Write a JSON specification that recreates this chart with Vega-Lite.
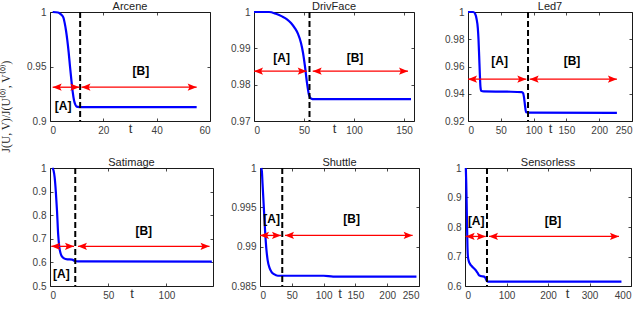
{
  "$schema": "https://vega.github.io/schema/vega-lite/v6.json",
  "padding": 0,
  "background": "white",
  "title": {"text": "J(U, V)/J(U⁽⁰⁾, V⁽⁰⁾)", "orient": "left", "anchor": "middle", "font": "Liberation Serif", "fontSize": 11.5, "fontWeight": "normal", "color": "#222222", "offset": 4, "dx": 44},
  "datasets": {
    "curves": [
      {"p":"Arcene","t":1,"j":1},{"p":"Arcene","t":3,"j":0.9995},{"p":"Arcene","t":4,"j":0.998},{"p":"Arcene","t":5,"j":0.995},{"p":"Arcene","t":5.5,"j":0.99},{"p":"Arcene","t":6,"j":0.983},{"p":"Arcene","t":6.5,"j":0.974},{"p":"Arcene","t":7,"j":0.963},{"p":"Arcene","t":7.5,"j":0.95},{"p":"Arcene","t":8,"j":0.938},{"p":"Arcene","t":8.5,"j":0.927},{"p":"Arcene","t":9,"j":0.919},{"p":"Arcene","t":9.5,"j":0.915},{"p":"Arcene","t":10,"j":0.9132},{"p":"Arcene","t":11,"j":0.9128},{"p":"Arcene","t":55,"j":0.9128},
      {"p":"DrivFace","t":0,"j":1},{"p":"DrivFace","t":15,"j":1},{"p":"DrivFace","t":22,"j":0.9995},{"p":"DrivFace","t":28,"j":0.9988},{"p":"DrivFace","t":33,"j":0.998},{"p":"DrivFace","t":37,"j":0.997},{"p":"DrivFace","t":41,"j":0.9955},{"p":"DrivFace","t":44,"j":0.994},{"p":"DrivFace","t":47,"j":0.9915},{"p":"DrivFace","t":49,"j":0.9888},{"p":"DrivFace","t":51,"j":0.985},{"p":"DrivFace","t":53,"j":0.9805},{"p":"DrivFace","t":55,"j":0.9772},{"p":"DrivFace","t":57,"j":0.9762},{"p":"DrivFace","t":60,"j":0.976},{"p":"DrivFace","t":157,"j":0.976},
      {"p":"Led7","t":0,"j":1},{"p":"Led7","t":8,"j":1},{"p":"Led7","t":11,"j":0.9985},{"p":"Led7","t":13,"j":0.995},{"p":"Led7","t":15,"j":0.988},{"p":"Led7","t":16,"j":0.98},{"p":"Led7","t":17,"j":0.968},{"p":"Led7","t":18,"j":0.955},{"p":"Led7","t":19,"j":0.945},{"p":"Led7","t":20,"j":0.9422},{"p":"Led7","t":24,"j":0.9417},{"p":"Led7","t":60,"j":0.9415},{"p":"Led7","t":82,"j":0.9412},{"p":"Led7","t":84,"j":0.9405},{"p":"Led7","t":85.5,"j":0.937},{"p":"Led7","t":87,"j":0.931},{"p":"Led7","t":88.5,"j":0.9265},{"p":"Led7","t":92,"j":0.9262},{"p":"Led7","t":227,"j":0.926},
      {"p":"Satimage","t":2,"j":1},{"p":"Satimage","t":3,"j":0.99},{"p":"Satimage","t":4,"j":0.96},{"p":"Satimage","t":5,"j":0.9},{"p":"Satimage","t":6,"j":0.82},{"p":"Satimage","t":7,"j":0.72},{"p":"Satimage","t":8,"j":0.665},{"p":"Satimage","t":9,"j":0.64},{"p":"Satimage","t":10,"j":0.627},{"p":"Satimage","t":12,"j":0.617},{"p":"Satimage","t":15,"j":0.613},{"p":"Satimage","t":19,"j":0.612},{"p":"Satimage","t":21,"j":0.607},{"p":"Satimage","t":24,"j":0.604},{"p":"Satimage","t":139,"j":0.603},
      {"p":"Shuttle","t":2,"j":1},{"p":"Shuttle","t":3,"j":0.9995},{"p":"Shuttle","t":4,"j":0.998},{"p":"Shuttle","t":6,"j":0.995},{"p":"Shuttle","t":8,"j":0.992},{"p":"Shuttle","t":10,"j":0.9897},{"p":"Shuttle","t":12,"j":0.9883},{"p":"Shuttle","t":15,"j":0.9873},{"p":"Shuttle","t":18,"j":0.9868},{"p":"Shuttle","t":22,"j":0.9865},{"p":"Shuttle","t":28,"j":0.9863},{"p":"Shuttle","t":100,"j":0.9863},{"p":"Shuttle","t":115,"j":0.9862},{"p":"Shuttle","t":246,"j":0.9862},
      {"p":"Sensorless","t":2,"j":1},{"p":"Sensorless","t":3,"j":0.95},{"p":"Sensorless","t":4,"j":0.88},{"p":"Sensorless","t":5,"j":0.8},{"p":"Sensorless","t":6,"j":0.73},{"p":"Sensorless","t":7,"j":0.7},{"p":"Sensorless","t":9,"j":0.685},{"p":"Sensorless","t":12,"j":0.675},{"p":"Sensorless","t":16,"j":0.668},{"p":"Sensorless","t":20,"j":0.662},{"p":"Sensorless","t":25,"j":0.655},{"p":"Sensorless","t":30,"j":0.645},{"p":"Sensorless","t":34,"j":0.636},{"p":"Sensorless","t":40,"j":0.633},{"p":"Sensorless","t":46,"j":0.632},{"p":"Sensorless","t":49,"j":0.628},{"p":"Sensorless","t":52,"j":0.618},{"p":"Sensorless","t":55,"j":0.615},{"p":"Sensorless","t":377,"j":0.615}
    ],
    "splits": [
      {"p":"Arcene","t":11.3},{"p":"DrivFace","t":55.5},{"p":"Led7","t":91.5},{"p":"Satimage","t":21.7},{"p":"Shuttle","t":35},{"p":"Sensorless","t":53}
    ],
    "arrows": [
      {"p":"Arcene","t1":1,"t2":11,"y":0.931},{"p":"Arcene","t1":11.8,"t2":55,"y":0.931},
      {"p":"DrivFace","t1":0,"t2":52.7,"y":0.9837},{"p":"DrivFace","t1":58.7,"t2":154,"y":0.9837},
      {"p":"Led7","t1":0,"t2":88.9,"y":0.9507},{"p":"Led7","t1":94,"t2":227,"y":0.9507},
      {"p":"Satimage","t1":1.1,"t2":20.6,"y":0.668},{"p":"Satimage","t1":24,"t2":137,"y":0.668},
      {"p":"Shuttle","t1":0,"t2":33,"y":0.99143},{"p":"Shuttle","t1":39.3,"t2":240,"y":0.99143},
      {"p":"Sensorless","t1":1.6,"t2":50,"y":0.768},{"p":"Sensorless","t1":57.8,"t2":371,"y":0.768}
    ],
    "labels": [
      {"p":"Arcene","t":4.9,"y":0.9138,"txt":"[A]"},{"p":"Arcene","t":34.1,"y":0.946,"txt":"[B]"},
      {"p":"DrivFace","t":27.7,"y":0.9873,"txt":"[A]"},{"p":"DrivFace","t":101,"y":0.9873,"txt":"[B]"},
      {"p":"Led7","t":48.3,"y":0.9638,"txt":"[A]"},{"p":"Led7","t":158.5,"y":0.9638,"txt":"[B]"},
      {"p":"Satimage","t":9.7,"y":0.55,"txt":"[A]"},{"p":"Satimage","t":80.5,"y":0.732,"txt":"[B]"},
      {"p":"Shuttle","t":18.4,"y":0.9935,"txt":"[A]"},{"p":"Shuttle","t":144,"y":0.9935,"txt":"[B]"},
      {"p":"Sensorless","t":27,"y":0.821,"txt":"[A]"},{"p":"Sensorless","t":212,"y":0.821,"txt":"[B]"}
    ]
  },
  "columns": 3,
  "align": {"row": "all", "column": "none"},
  "bounds": "full",
  "spacing": {"row": 11, "column": 5},
  "concat": [
    {
      "width": 160, "height": 109, "title": "Arcene",
      "resolve": {"axis": {"x": "independent", "y": "independent"}},
      "layer": [
        {"data": {"name": "curves"}, "transform": [{"filter": {"field": "p", "equal": "Arcene"}}],
         "mark": {"type": "line", "color": "#0000ff", "strokeWidth": 2.2, "interpolate": "monotone"},
         "encoding": {
           "x": {"field": "t", "type": "quantitative", "title": "t", "scale": {"domain": [0, 60], "nice": false, "zero": false}, "axis": {"values": [0, 20, 40, 60], "tickCount": 20, "format": "d", "labelOverlap": false}},
           "y": {"field": "j", "type": "quantitative", "title": null, "scale": {"domain": [0.9, 1], "nice": false, "zero": false}, "axis": {"values": [0.9, 0.95, 1], "tickCount": 20, "format": "~g", "labelOverlap": false, "minExtent": 33}}}},
        {"data": {"name": "splits"}, "transform": [{"filter": {"field": "p", "equal": "Arcene"}}],
         "mark": {"type": "rule", "color": "#000000", "strokeWidth": 2, "strokeDash": [6, 3]},
         "encoding": {"x": {"field": "t", "type": "quantitative", "title": null, "axis": {"orient": "top", "labels": false, "values": [0, 20, 40, 60], "tickCount": 20, "minExtent": 0, "maxExtent": 0}}}},
        {"data": {"name": "arrows"}, "transform": [{"filter": {"field": "p", "equal": "Arcene"}}],
         "mark": {"type": "rule", "color": "#ff0000", "strokeWidth": 1.3},
         "encoding": {"x": {"field": "t1", "type": "quantitative", "axis": null}, "x2": {"field": "t2"}, "y": {"field": "y", "type": "quantitative", "title": null, "axis": {"orient": "right", "labels": false, "values": [0.9, 0.95, 1], "tickCount": 20, "minExtent": 0, "maxExtent": 0}}}},
        {"data": {"name": "arrows"}, "transform": [{"filter": {"field": "p", "equal": "Arcene"}}],
         "mark": {"type": "point", "shape": "M0,0L3,-1.2L2.4,0L3,1.2Z", "size": 36, "filled": true, "color": "#ff0000", "opacity": 1, "strokeWidth": 0},
         "encoding": {"x": {"field": "t1", "type": "quantitative", "axis": null}, "y": {"field": "y", "type": "quantitative", "axis": null}}},
        {"data": {"name": "arrows"}, "transform": [{"filter": {"field": "p", "equal": "Arcene"}}],
         "mark": {"type": "point", "shape": "M0,0L-3,-1.2L-2.4,0L-3,1.2Z", "size": 36, "filled": true, "color": "#ff0000", "opacity": 1, "strokeWidth": 0},
         "encoding": {"x": {"field": "t2", "type": "quantitative", "axis": null}, "y": {"field": "y", "type": "quantitative", "axis": null}}},
        {"data": {"name": "labels"}, "transform": [{"filter": {"field": "p", "equal": "Arcene"}}],
         "mark": {"type": "text", "font": "Liberation Sans", "fontSize": 12, "fontWeight": "bold", "color": "#000000"},
         "encoding": {"x": {"field": "t", "type": "quantitative", "axis": null}, "y": {"field": "y", "type": "quantitative", "axis": null}, "text": {"field": "txt"}}}
      ]
    },
    {
      "width": 160, "height": 109, "title": "DrivFace",
      "resolve": {"axis": {"x": "independent", "y": "independent"}},
      "layer": [
        {"data": {"name": "curves"}, "transform": [{"filter": {"field": "p", "equal": "DrivFace"}}],
         "mark": {"type": "line", "color": "#0000ff", "strokeWidth": 2.2, "interpolate": "monotone"},
         "encoding": {
           "x": {"field": "t", "type": "quantitative", "title": "t", "scale": {"domain": [0, 160], "nice": false, "zero": false}, "axis": {"values": [0, 50, 100, 150], "tickCount": 20, "format": "d", "labelOverlap": false}},
           "y": {"field": "j", "type": "quantitative", "title": null, "scale": {"domain": [0.97, 1], "nice": false, "zero": false}, "axis": {"values": [0.97, 0.98, 0.99, 1], "tickCount": 20, "format": "~g", "labelOverlap": false, "minExtent": 31}}}},
        {"data": {"name": "splits"}, "transform": [{"filter": {"field": "p", "equal": "DrivFace"}}],
         "mark": {"type": "rule", "color": "#000000", "strokeWidth": 2, "strokeDash": [6, 3]},
         "encoding": {"x": {"field": "t", "type": "quantitative", "title": null, "axis": {"orient": "top", "labels": false, "values": [0, 50, 100, 150], "tickCount": 20, "minExtent": 0, "maxExtent": 0}}}},
        {"data": {"name": "arrows"}, "transform": [{"filter": {"field": "p", "equal": "DrivFace"}}],
         "mark": {"type": "rule", "color": "#ff0000", "strokeWidth": 1.3},
         "encoding": {"x": {"field": "t1", "type": "quantitative", "axis": null}, "x2": {"field": "t2"}, "y": {"field": "y", "type": "quantitative", "title": null, "axis": {"orient": "right", "labels": false, "values": [0.97, 0.98, 0.99, 1], "tickCount": 20, "minExtent": 0, "maxExtent": 0}}}},
        {"data": {"name": "arrows"}, "transform": [{"filter": {"field": "p", "equal": "DrivFace"}}],
         "mark": {"type": "point", "shape": "M0,0L3,-1.2L2.4,0L3,1.2Z", "size": 36, "filled": true, "color": "#ff0000", "opacity": 1, "strokeWidth": 0},
         "encoding": {"x": {"field": "t1", "type": "quantitative", "axis": null}, "y": {"field": "y", "type": "quantitative", "axis": null}}},
        {"data": {"name": "arrows"}, "transform": [{"filter": {"field": "p", "equal": "DrivFace"}}],
         "mark": {"type": "point", "shape": "M0,0L-3,-1.2L-2.4,0L-3,1.2Z", "size": 36, "filled": true, "color": "#ff0000", "opacity": 1, "strokeWidth": 0},
         "encoding": {"x": {"field": "t2", "type": "quantitative", "axis": null}, "y": {"field": "y", "type": "quantitative", "axis": null}}},
        {"data": {"name": "labels"}, "transform": [{"filter": {"field": "p", "equal": "DrivFace"}}],
         "mark": {"type": "text", "font": "Liberation Sans", "fontSize": 12, "fontWeight": "bold", "color": "#000000"},
         "encoding": {"x": {"field": "t", "type": "quantitative", "axis": null}, "y": {"field": "y", "type": "quantitative", "axis": null}, "text": {"field": "txt"}}}
      ]
    },
    {
      "width": 164, "height": 109, "title": "Led7",
      "resolve": {"axis": {"x": "independent", "y": "independent"}},
      "layer": [
        {"data": {"name": "curves"}, "transform": [{"filter": {"field": "p", "equal": "Led7"}}],
         "mark": {"type": "line", "color": "#0000ff", "strokeWidth": 2.2, "interpolate": "monotone"},
         "encoding": {
           "x": {"field": "t", "type": "quantitative", "title": "t", "scale": {"domain": [0, 250], "nice": false, "zero": false}, "axis": {"values": [0, 50, 100, 150, 200, 250], "tickCount": 20, "format": "d", "labelOverlap": false}},
           "y": {"field": "j", "type": "quantitative", "title": null, "scale": {"domain": [0.92, 1], "nice": false, "zero": false}, "axis": {"values": [0.92, 0.94, 0.96, 0.98, 1], "tickCount": 20, "format": "~g", "labelOverlap": false, "minExtent": 46}}}},
        {"data": {"name": "splits"}, "transform": [{"filter": {"field": "p", "equal": "Led7"}}],
         "mark": {"type": "rule", "color": "#000000", "strokeWidth": 2, "strokeDash": [6, 3]},
         "encoding": {"x": {"field": "t", "type": "quantitative", "title": null, "axis": {"orient": "top", "labels": false, "values": [0, 50, 100, 150, 200, 250], "tickCount": 20, "minExtent": 0, "maxExtent": 0}}}},
        {"data": {"name": "arrows"}, "transform": [{"filter": {"field": "p", "equal": "Led7"}}],
         "mark": {"type": "rule", "color": "#ff0000", "strokeWidth": 1.3},
         "encoding": {"x": {"field": "t1", "type": "quantitative", "axis": null}, "x2": {"field": "t2"}, "y": {"field": "y", "type": "quantitative", "title": null, "axis": {"orient": "right", "labels": false, "values": [0.92, 0.94, 0.96, 0.98, 1], "tickCount": 20, "minExtent": 0, "maxExtent": 0}}}},
        {"data": {"name": "arrows"}, "transform": [{"filter": {"field": "p", "equal": "Led7"}}],
         "mark": {"type": "point", "shape": "M0,0L3,-1.2L2.4,0L3,1.2Z", "size": 36, "filled": true, "color": "#ff0000", "opacity": 1, "strokeWidth": 0},
         "encoding": {"x": {"field": "t1", "type": "quantitative", "axis": null}, "y": {"field": "y", "type": "quantitative", "axis": null}}},
        {"data": {"name": "arrows"}, "transform": [{"filter": {"field": "p", "equal": "Led7"}}],
         "mark": {"type": "point", "shape": "M0,0L-3,-1.2L-2.4,0L-3,1.2Z", "size": 36, "filled": true, "color": "#ff0000", "opacity": 1, "strokeWidth": 0},
         "encoding": {"x": {"field": "t2", "type": "quantitative", "axis": null}, "y": {"field": "y", "type": "quantitative", "axis": null}}},
        {"data": {"name": "labels"}, "transform": [{"filter": {"field": "p", "equal": "Led7"}}],
         "mark": {"type": "text", "font": "Liberation Sans", "fontSize": 12, "fontWeight": "bold", "color": "#000000"},
         "encoding": {"x": {"field": "t", "type": "quantitative", "axis": null}, "y": {"field": "y", "type": "quantitative", "axis": null}, "text": {"field": "txt"}}}
      ]
    },
    {
      "width": 163, "height": 118, "title": "Satimage",
      "resolve": {"axis": {"x": "independent", "y": "independent"}},
      "layer": [
        {"data": {"name": "curves"}, "transform": [{"filter": {"field": "p", "equal": "Satimage"}}],
         "mark": {"type": "line", "color": "#0000ff", "strokeWidth": 2.2, "interpolate": "monotone"},
         "encoding": {
           "x": {"field": "t", "type": "quantitative", "title": "t", "scale": {"domain": [0, 140], "nice": false, "zero": false}, "axis": {"values": [0, 50, 100], "tickCount": 20, "format": "d", "labelOverlap": false}},
           "y": {"field": "j", "type": "quantitative", "title": null, "scale": {"domain": [0.5, 1], "nice": false, "zero": false}, "axis": {"values": [0.5, 0.6, 0.7, 0.8, 0.9, 1], "tickCount": 20, "format": "~g", "labelOverlap": false, "minExtent": 33}}}},
        {"data": {"name": "splits"}, "transform": [{"filter": {"field": "p", "equal": "Satimage"}}],
         "mark": {"type": "rule", "color": "#000000", "strokeWidth": 2, "strokeDash": [6, 3]},
         "encoding": {"x": {"field": "t", "type": "quantitative", "title": null, "axis": {"orient": "top", "labels": false, "values": [0, 50, 100], "tickCount": 20, "minExtent": 0, "maxExtent": 0}}}},
        {"data": {"name": "arrows"}, "transform": [{"filter": {"field": "p", "equal": "Satimage"}}],
         "mark": {"type": "rule", "color": "#ff0000", "strokeWidth": 1.3},
         "encoding": {"x": {"field": "t1", "type": "quantitative", "axis": null}, "x2": {"field": "t2"}, "y": {"field": "y", "type": "quantitative", "title": null, "axis": {"orient": "right", "labels": false, "values": [0.5, 0.6, 0.7, 0.8, 0.9, 1], "tickCount": 20, "minExtent": 0, "maxExtent": 0}}}},
        {"data": {"name": "arrows"}, "transform": [{"filter": {"field": "p", "equal": "Satimage"}}],
         "mark": {"type": "point", "shape": "M0,0L3,-1.2L2.4,0L3,1.2Z", "size": 36, "filled": true, "color": "#ff0000", "opacity": 1, "strokeWidth": 0},
         "encoding": {"x": {"field": "t1", "type": "quantitative", "axis": null}, "y": {"field": "y", "type": "quantitative", "axis": null}}},
        {"data": {"name": "arrows"}, "transform": [{"filter": {"field": "p", "equal": "Satimage"}}],
         "mark": {"type": "point", "shape": "M0,0L-3,-1.2L-2.4,0L-3,1.2Z", "size": 36, "filled": true, "color": "#ff0000", "opacity": 1, "strokeWidth": 0},
         "encoding": {"x": {"field": "t2", "type": "quantitative", "axis": null}, "y": {"field": "y", "type": "quantitative", "axis": null}}},
        {"data": {"name": "labels"}, "transform": [{"filter": {"field": "p", "equal": "Satimage"}}],
         "mark": {"type": "text", "font": "Liberation Sans", "fontSize": 12, "fontWeight": "bold", "color": "#000000"},
         "encoding": {"x": {"field": "t", "type": "quantitative", "axis": null}, "y": {"field": "y", "type": "quantitative", "axis": null}, "text": {"field": "txt"}}}
      ]
    },
    {
      "width": 159, "height": 118, "title": "Shuttle",
      "resolve": {"axis": {"x": "independent", "y": "independent"}},
      "layer": [
        {"data": {"name": "curves"}, "transform": [{"filter": {"field": "p", "equal": "Shuttle"}}],
         "mark": {"type": "line", "color": "#0000ff", "strokeWidth": 2.2, "interpolate": "monotone"},
         "encoding": {
           "x": {"field": "t", "type": "quantitative", "title": "t", "scale": {"domain": [0, 250], "nice": false, "zero": false}, "axis": {"values": [0, 50, 100, 150, 200, 250], "tickCount": 20, "format": "d", "labelOverlap": false}},
           "y": {"field": "j", "type": "quantitative", "title": null, "scale": {"domain": [0.985, 1], "nice": false, "zero": false}, "axis": {"values": [0.985, 0.99, 0.995, 1], "tickCount": 20, "format": "~g", "labelOverlap": false, "minExtent": 37}}}},
        {"data": {"name": "splits"}, "transform": [{"filter": {"field": "p", "equal": "Shuttle"}}],
         "mark": {"type": "rule", "color": "#000000", "strokeWidth": 2, "strokeDash": [6, 3]},
         "encoding": {"x": {"field": "t", "type": "quantitative", "title": null, "axis": {"orient": "top", "labels": false, "values": [0, 50, 100, 150, 200, 250], "tickCount": 20, "minExtent": 0, "maxExtent": 0}}}},
        {"data": {"name": "arrows"}, "transform": [{"filter": {"field": "p", "equal": "Shuttle"}}],
         "mark": {"type": "rule", "color": "#ff0000", "strokeWidth": 1.3},
         "encoding": {"x": {"field": "t1", "type": "quantitative", "axis": null}, "x2": {"field": "t2"}, "y": {"field": "y", "type": "quantitative", "title": null, "axis": {"orient": "right", "labels": false, "values": [0.985, 0.99, 0.995, 1], "tickCount": 20, "minExtent": 0, "maxExtent": 0}}}},
        {"data": {"name": "arrows"}, "transform": [{"filter": {"field": "p", "equal": "Shuttle"}}],
         "mark": {"type": "point", "shape": "M0,0L3,-1.2L2.4,0L3,1.2Z", "size": 36, "filled": true, "color": "#ff0000", "opacity": 1, "strokeWidth": 0},
         "encoding": {"x": {"field": "t1", "type": "quantitative", "axis": null}, "y": {"field": "y", "type": "quantitative", "axis": null}}},
        {"data": {"name": "arrows"}, "transform": [{"filter": {"field": "p", "equal": "Shuttle"}}],
         "mark": {"type": "point", "shape": "M0,0L-3,-1.2L-2.4,0L-3,1.2Z", "size": 36, "filled": true, "color": "#ff0000", "opacity": 1, "strokeWidth": 0},
         "encoding": {"x": {"field": "t2", "type": "quantitative", "axis": null}, "y": {"field": "y", "type": "quantitative", "axis": null}}},
        {"data": {"name": "labels"}, "transform": [{"filter": {"field": "p", "equal": "Shuttle"}}],
         "mark": {"type": "text", "font": "Liberation Sans", "fontSize": 12, "fontWeight": "bold", "color": "#000000"},
         "encoding": {"x": {"field": "t", "type": "quantitative", "axis": null}, "y": {"field": "y", "type": "quantitative", "axis": null}, "text": {"field": "txt"}}}
      ]
    },
    {
      "width": 166, "height": 118, "title": "Sensorless",
      "resolve": {"axis": {"x": "independent", "y": "independent"}},
      "layer": [
        {"data": {"name": "curves"}, "transform": [{"filter": {"field": "p", "equal": "Sensorless"}}],
         "mark": {"type": "line", "color": "#0000ff", "strokeWidth": 2.2, "interpolate": "monotone"},
         "encoding": {
           "x": {"field": "t", "type": "quantitative", "title": "t", "scale": {"domain": [0, 400], "nice": false, "zero": false}, "axis": {"values": [0, 100, 200, 300, 400], "tickCount": 20, "format": "d", "labelOverlap": false, "titleX": 102}},
           "y": {"field": "j", "type": "quantitative", "title": null, "scale": {"domain": [0.6, 1], "nice": false, "zero": false}, "axis": {"values": [0.6, 0.7, 0.8, 0.9, 1], "tickCount": 20, "format": "~g", "labelOverlap": false, "minExtent": 37}}}},
        {"data": {"name": "splits"}, "transform": [{"filter": {"field": "p", "equal": "Sensorless"}}],
         "mark": {"type": "rule", "color": "#000000", "strokeWidth": 2, "strokeDash": [6, 3]},
         "encoding": {"x": {"field": "t", "type": "quantitative", "title": null, "axis": {"orient": "top", "labels": false, "values": [0, 100, 200, 300, 400], "tickCount": 20, "minExtent": 0, "maxExtent": 0}}}},
        {"data": {"name": "arrows"}, "transform": [{"filter": {"field": "p", "equal": "Sensorless"}}],
         "mark": {"type": "rule", "color": "#ff0000", "strokeWidth": 1.3},
         "encoding": {"x": {"field": "t1", "type": "quantitative", "axis": null}, "x2": {"field": "t2"}, "y": {"field": "y", "type": "quantitative", "title": null, "axis": {"orient": "right", "labels": false, "values": [0.6, 0.7, 0.8, 0.9, 1], "tickCount": 20, "minExtent": 0, "maxExtent": 0}}}},
        {"data": {"name": "arrows"}, "transform": [{"filter": {"field": "p", "equal": "Sensorless"}}],
         "mark": {"type": "point", "shape": "M0,0L3,-1.2L2.4,0L3,1.2Z", "size": 36, "filled": true, "color": "#ff0000", "opacity": 1, "strokeWidth": 0},
         "encoding": {"x": {"field": "t1", "type": "quantitative", "axis": null}, "y": {"field": "y", "type": "quantitative", "axis": null}}},
        {"data": {"name": "arrows"}, "transform": [{"filter": {"field": "p", "equal": "Sensorless"}}],
         "mark": {"type": "point", "shape": "M0,0L-3,-1.2L-2.4,0L-3,1.2Z", "size": 36, "filled": true, "color": "#ff0000", "opacity": 1, "strokeWidth": 0},
         "encoding": {"x": {"field": "t2", "type": "quantitative", "axis": null}, "y": {"field": "y", "type": "quantitative", "axis": null}}},
        {"data": {"name": "labels"}, "transform": [{"filter": {"field": "p", "equal": "Sensorless"}}],
         "mark": {"type": "text", "font": "Liberation Sans", "fontSize": 12, "fontWeight": "bold", "color": "#000000"},
         "encoding": {"x": {"field": "t", "type": "quantitative", "axis": null}, "y": {"field": "y", "type": "quantitative", "axis": null}, "text": {"field": "txt"}}}
      ]
    }
  ],
  "config": {
    "view": {"stroke": "#1a1a1a", "strokeWidth": 1},
    "axis": {"grid": false, "domain": false, "labelOverlap": false, "tickColor": "#1a1a1a", "tickSize": -3, "tickWidth": 0.8, "labelPadding": 7, "labelFont": "Liberation Sans", "labelFontSize": 10, "labelColor": "#404040"},
    "axisX": {"titlePadding": -13, "titleFont": "Liberation Sans", "titleFontSize": 13, "titleFontWeight": "normal", "titleColor": "#333333"},
    "title": {"font": "Liberation Sans", "fontSize": 11, "fontWeight": "normal", "color": "#222222", "offset": -5}
  }
}
